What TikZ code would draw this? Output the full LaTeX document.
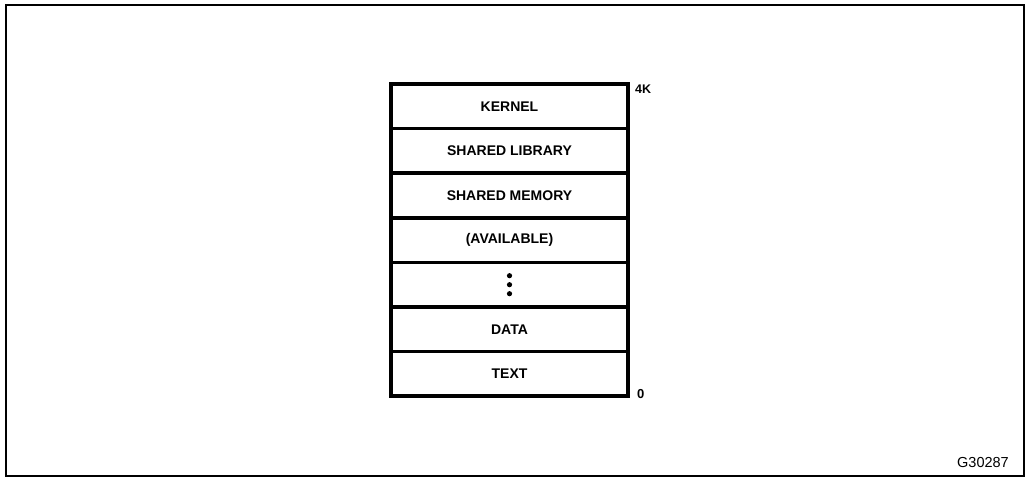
\documentclass[tikz,border=0pt]{standalone}
\usepackage{fontspec}
\setmainfont{Liberation Sans}
\usepackage{tikz}
\usetikzlibrary{positioning,calc}

\begin{document}
\begin{tikzpicture}[x=1pt, y=-1pt, every node/.style={font=\fontsize{14}{16}\selectfont\bfseries}]
        \useasboundingbox (0,0) rectangle (1027,478);
        % Frame
        \draw[line width=1.6pt] (6,5) rectangle (1024,476);

        % Memory map
        \tikzset{segbox/.style={draw, line width=3.6pt, minimum width=237pt, minimum height=44.6pt, inner sep=0pt, outer sep=0pt}}
        \node[segbox] (kernel) at (509.5,106.3) {KERNEL};
        \node[segbox] (shlib) at (509.5,150.9) {SHARED LIBRARY};
        \node[segbox] (shmem) at (509.5,195.5) {SHARED MEMORY};
        \node[segbox] (avail) at (509.5,240.1) {(AVAILABLE)};
        \node[segbox] (dots) at (509.5,284.7) {};
        \node[segbox] (data) at (509.5,329.3) {DATA};
        \node[segbox] (text) at (509.5,373.9) {TEXT};
        \foreach \dy in {-9,0,9}
            \fill (dots.center) ++(0,\dy) circle (2.6pt);

        % Addresses
        \node[anchor=north west, inner sep=0pt, font=\fontsize{12.5}{14}\selectfont\bfseries] (hi) at ([xshift=7pt,yshift=-1pt]kernel.north east) {4K};
        \node[anchor=base west, inner sep=0pt, font=\fontsize{13}{15}\selectfont\bfseries] (lo) at ([xshift=9pt,yshift=-2pt]text.south east) {0};

        % Figure number
        \node[anchor=base east, inner sep=0pt, font=\fontsize{14.5}{16}\selectfont] (fig) at (1009,467) {G30287};
\end{tikzpicture}
\end{document}
